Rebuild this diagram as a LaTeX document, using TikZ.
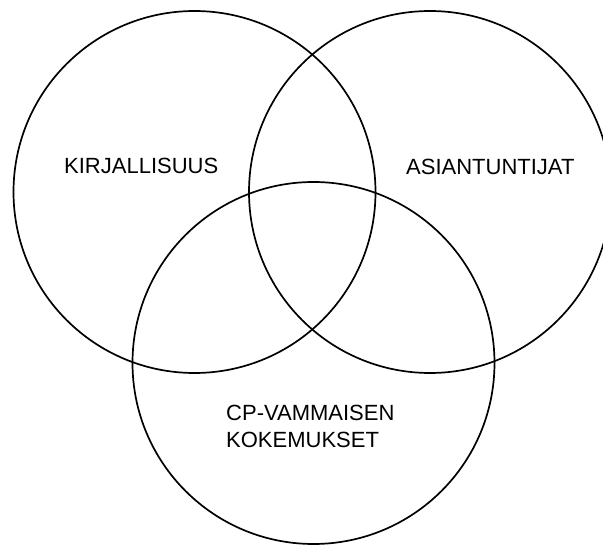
\documentclass[tikz,border=0pt]{standalone}
\usepackage{fontspec}
\setmainfont{Liberation Sans}
\begin{document}
\begin{tikzpicture}[x=1pt,y=-1pt,
  venn/.style={draw=black,line width=1.7pt,circle,minimum size=362pt,inner sep=0pt,outer sep=0pt},
  lbl/.style={anchor=base west,inner sep=0pt,font=\fontsize{22}{27}\selectfont,align=left}]
\useasboundingbox (0,0) rectangle (603,545);
\fill[white] (0,0) rectangle (603,545);
\node[venn] (left) at (194.5,192) {};
\node[venn] (right) at (430,192) {};
\node[venn] (bottom) at (313.5,363) {};
\node[lbl] (kirj) at (64,174) {KIRJALLISUUS};
\node[lbl] (asian) at (406,175) {ASIANTUNTIJAT};
\node[lbl] (cp) at (226,448) {CP-VAMMAISEN\\KOKEMUKSET};
\end{tikzpicture}
\end{document}
